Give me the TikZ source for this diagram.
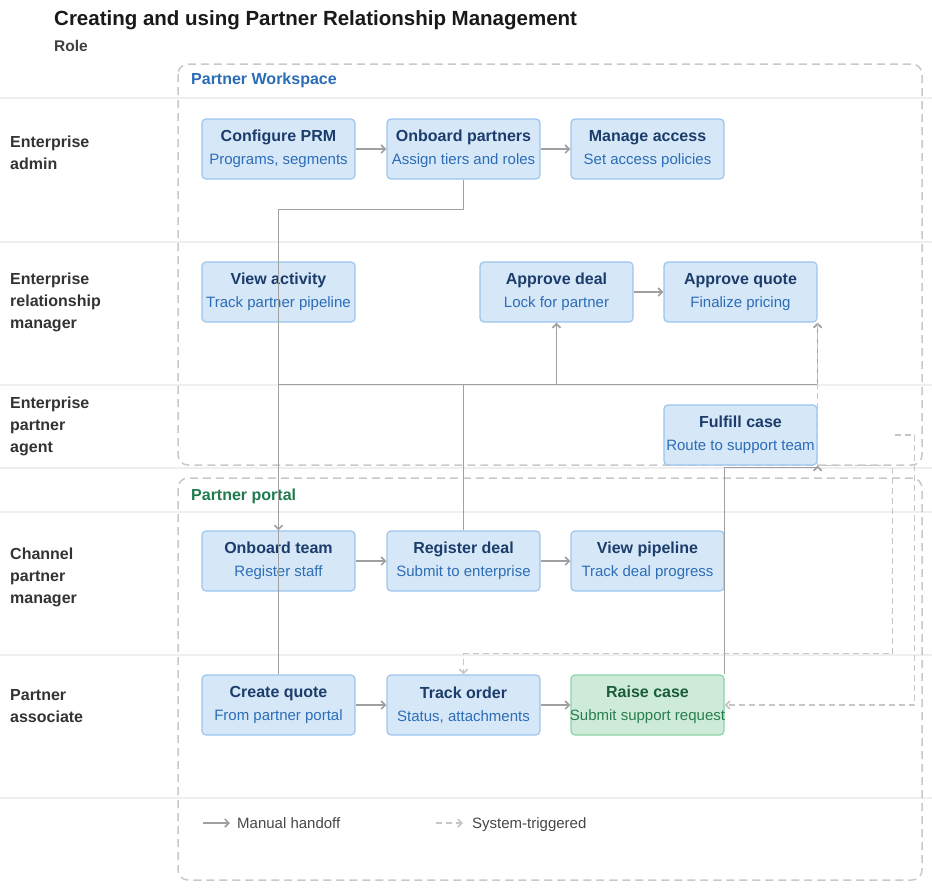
\documentclass[tikz,border=0pt]{standalone}
\usepackage{fontspec}
\setmainfont{Liberation Sans}
\usetikzlibrary{positioning}
\usetikzlibrary{arrows.meta}

\definecolor{boxfill}{HTML}{D6E7F8}
\definecolor{boxline}{HTML}{9DC5EE}
\definecolor{ttlc}{HTML}{1C3D6B}
\definecolor{subc}{HTML}{2C6DB6}
\definecolor{gfill}{HTML}{CDEBD8}
\definecolor{gline}{HTML}{8ED3A8}
\definecolor{gttl}{HTML}{1A5C3A}
\definecolor{gsub}{HTML}{2A7D4E}
\definecolor{flow}{HTML}{A0A0A0}
\definecolor{sysflow}{HTML}{C6C6C6}
\definecolor{grpline}{HTML}{C9C9C9}
\definecolor{laneline}{HTML}{EFEFEF}
\definecolor{lanetext}{HTML}{333333}
\definecolor{wsblue}{HTML}{2A6DB5}
\definecolor{ptgreen}{HTML}{217A4E}

\newcommand{\twoline}[2]{\makebox[0pt]{\fontsize{16}{23}\selectfont\bfseries\color{ttlc}#1}\\\makebox[0pt]{\fontsize{15}{23}\selectfont\color{subc}#2}}

\tikzset{
	pstep/.style={rectangle, rounded corners=4pt, draw=boxline, fill=boxfill, line width=1.2pt,
		minimum width=153pt, minimum height=60pt, inner sep=0pt, align=center,
		font=\fontsize{15}{23}\selectfont},
	gstep/.style={pstep, draw=gline, fill=gfill,
		execute at begin node={\colorlet{ttlc}{gttl}\colorlet{subc}{gsub}}},
	lanelbl/.style={anchor=west, align=left, inner sep=0pt, text=lanetext,
		font=\fontsize{16}{22}\selectfont\bfseries},
	grplbl/.style={anchor=west, inner sep=0pt, font=\fontsize{16}{20}\selectfont\bfseries},
	leglbl/.style={anchor=base west, inner sep=0pt, font=\fontsize{15}{18}\selectfont, text=black!72},
	handoff/.style={draw=flow, line width=1.7pt, -{Straight Barb[length=4pt,width=8pt]}},
	systrig/.style={draw=sysflow, line width=1.7pt, dash pattern=on 6pt off 4pt,
		-{Straight Barb[length=4pt,width=8pt]}},
	grpbox/.style={draw=grpline, line width=1.5pt, dash pattern=on 8pt off 5pt, rounded corners=10pt},
}

\begin{document}
\begin{tikzpicture}[x=1pt, y=-1pt]
	\useasboundingbox (0,0) rectangle (932,892);
	
	% lanes
	\foreach \ly in {98,242,385,468,512,655,798}
		\draw [laneline, line width=1.5pt] (0,\ly) -- (932,\ly);
	
	\node [anchor=west, inner sep=0pt, font=\fontsize{20.5}{24}\selectfont\bfseries, text=black!90] (title) at (54,20) {Creating and using Partner Relationship Management};
	\node [anchor=west, inner sep=0pt, font=\fontsize{15.5}{20}\selectfont\bfseries, text=black!75] (role) at (54,46) {Role};
	
	\node [lanelbl] (ladmin) at (10,153) {Enterprise\\admin};
	\node [lanelbl] (lrm) at (10,302) {Enterprise\\relationship\\manager};
	\node [lanelbl] (lagent) at (10,426) {Enterprise\\partner\\agent};
	\node [lanelbl] (lcpm) at (10,577) {Channel\\partner\\manager};
	\node [lanelbl] (lassoc) at (10,706) {Partner\\associate};
	
	% groups
	\draw [grpbox] (178,64) rectangle (922,465);
	\draw [grpbox] (178,478) rectangle (922,880);
	\node [grplbl, text=wsblue] (wslbl) at (191,80) {Partner Workspace};
	\node [grplbl, text=ptgreen] (ptlbl) at (191,496) {Partner portal};
	
	% steps
	\node [pstep] (cfg) at (278.5,149) {\twoline{Configure PRM}{Programs, segments}};
	\node [pstep, right=30.8pt of cfg] (onbp) {\twoline{Onboard partners}{Assign tiers and roles}};
	\node [pstep, right=29.8pt of onbp] (mga) {\twoline{Manage access}{Set access policies}};
	
	\node [pstep] (vac) at (278.5,292) {\twoline{View activity}{Track partner pipeline}};
	\node [pstep] (apd) at (556.5,292) {\twoline{Approve deal}{Lock for partner}};
	\node [pstep, right=29.8pt of apd] (apq) {\twoline{Approve quote}{Finalize pricing}};
	
	\node [pstep, below=81.8pt of apq] (ful) {\twoline{Fulfill case}{Route to support team}};
	
	\node [pstep] (onbt) at (278.5,561) {\twoline{Onboard team}{Register staff}};
	\node [pstep, right=30.8pt of onbt] (regd) {\twoline{Register deal}{Submit to enterprise}};
	\node [pstep, right=29.8pt of regd] (vpl) {\twoline{View pipeline}{Track deal progress}};
	
	\node [pstep] (crq) at (278.5,705) {\twoline{Create quote}{From partner portal}};
	\node [pstep, right=30.8pt of crq] (tro) {\twoline{Track order}{Status, attachments}};
	\node [gstep, right=29.8pt of tro] (rsc) {\twoline{Raise case}{Submit support request}};
	
	% manual handoffs
	\draw [handoff] (cfg) -- (onbp);
	\draw [handoff] (onbp) -- (mga);
	\draw [handoff] (apd) -- (apq);
	\draw [handoff] (onbt) -- (regd);
	\draw [handoff] (regd) -- (vpl);
	\draw [handoff] (crq) -- (tro);
	\draw [handoff] (tro) -- (rsc);
	\draw [handoff] (onbp.south) -- ++(0,30) -| (onbt.north);
	\draw [handoff] (regd.north) -- ++(0,-146) -| (apd.south);
	\draw [handoff] (crq.north) -- ++(0,-290) -| (apq.south east);
	\draw [handoff] (rsc.north east) -- ++(0,-207) -| (ful.south east);
	
	% system triggered
	\coordinate (fulout) at ([xshift=77pt]ful.east);
	\draw [systrig] (apq.south east) -- ++(0,143) -- ++(75,0) -- ++(0,188) -| (tro.north);
	\draw [systrig] (fulout) -- ++(20,0) |- (rsc.east);
	
	% legend
	\node [leglbl] (legman) at (237,828) {Manual handoff};
	\node [leglbl] (legsys) at (472,828) {System-triggered};
	\coordinate (legmans) at (203,823);
	\coordinate (legsyss) at (436,823);
	\draw [handoff] (legmans) -- ++(27,0);
	\draw [systrig] (legsyss) -- ++(27,0);
	
\end{tikzpicture}
\end{document}
